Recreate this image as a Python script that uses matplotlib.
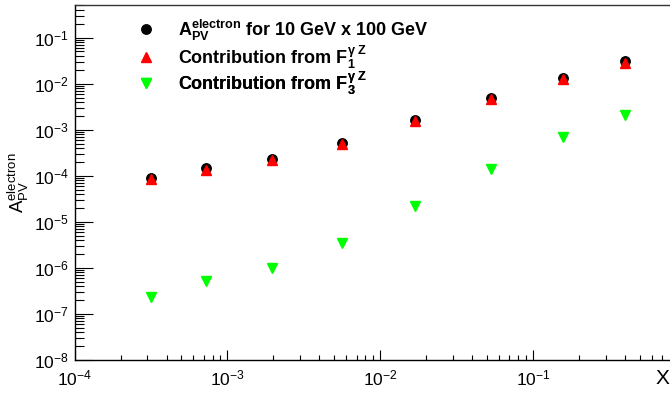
import math
import matplotlib
matplotlib.use("Agg")
import matplotlib.pyplot as plt
from matplotlib.ticker import LogLocator, FuncFormatter, NullFormatter
from matplotlib.lines import Line2D

plt.rcParams['font.family'] = ['Liberation Sans', 'DejaVu Sans']
plt.rcParams['mathtext.fontset'] = 'custom'
plt.rcParams['mathtext.rm'] = 'Liberation Sans'
plt.rcParams['mathtext.it'] = 'Liberation Sans:italic'
plt.rcParams['mathtext.bf'] = 'Liberation Sans:bold'
plt.rcParams['mathtext.sf'] = 'Liberation Sans'

# Data
x_vals = [3.15e-4, 7.2e-4, 1.97e-3, 5.6e-3, 1.7e-2, 5.3e-2, 0.158, 0.40]
apv_total = [9.1e-5, 1.45e-4, 2.3e-4, 5.2e-4, 1.65e-3, 4.9e-3, 1.35e-2, 3.05e-2]
apv_f1 = [8.5e-5, 1.36e-4, 2.16e-4, 4.9e-4, 1.55e-3, 4.6e-3, 1.27e-2, 2.85e-2]
apv_f3 = [2.37e-7, 5.2e-7, 9.8e-7, 3.4e-6, 2.2e-5, 1.4e-4, 7.0e-4, 2.07e-3]

labels = [r'$\mathbf{A^{electron}_{PV}}$ for 10 GeV x 100 GeV',
          r'Contribution from $\mathbf{F_1^{\gamma\ Z}}$',
          r'Contribution from $\mathbf{F_3^{\gamma\ Z}}$']

W, H = 670, 394
fig = plt.figure(figsize=(W / 100, H / 100), dpi=100)
left, right, top, bottom = 74.5, 686, 5, 360
ax = fig.add_axes([left / W, 1 - bottom / H, (right - left) / W, (bottom - top) / H])

ax.plot(x_vals, apv_total, 'o', color='black', markersize=6.8, linestyle='none')
ax.plot(x_vals, apv_f1, '^', color='#ff0000', markersize=6.8, linestyle='none')
ax.plot(x_vals, apv_f3, 'v', color='#00ff00', markersize=6.8, linestyle='none')

ax.set_xscale('log')
ax.set_yscale('log')
XMIN, XMAX, YMIN, YMAX = 1e-4, 1.0, 1e-8, 0.51
ax.set_xlim(XMIN, XMAX)
ax.set_ylim(YMIN, YMAX)

def make_fmt(lo, hi):
    def fmt(v, pos):
        if v < lo * 0.999 or v >= hi * 0.999:
            return ''
        e = int(round(math.log10(v)))
        return r'$10^{%d}$' % e
    return fmt

ax.xaxis.set_major_locator(LogLocator(base=10, numticks=20))
ax.yaxis.set_major_locator(LogLocator(base=10, numticks=20))
ax.xaxis.set_minor_locator(LogLocator(base=10, subs=range(2, 10), numticks=40))
ax.yaxis.set_minor_locator(LogLocator(base=10, subs=range(2, 10), numticks=40))
ax.xaxis.set_major_formatter(FuncFormatter(make_fmt(XMIN, XMAX)))
ax.yaxis.set_major_formatter(FuncFormatter(make_fmt(YMIN, YMAX)))
ax.xaxis.set_minor_formatter(NullFormatter())
ax.yaxis.set_minor_formatter(NullFormatter())

ax.tick_params(axis='x', which='major', direction='in', length=7.2, width=0.8, labelsize=12.5, pad=6)
ax.tick_params(axis='x', which='minor', direction='in', length=3.6, width=0.8)
ax.tick_params(axis='y', which='major', direction='in', length=13, width=0.8, labelsize=12.5, pad=4)
ax.tick_params(axis='y', which='minor', direction='in', length=6.5, width=0.8)
for s in ax.spines.values():
    s.set_linewidth(1.0)
ax.spines['top'].set_color('#333333')

ax.set_ylabel(r'$\mathregular{A^{electron}_{PV}}$', fontsize=13.5, labelpad=2)
fig.text(669 / W, 1 - 378 / H, 'X', fontsize=15, ha='right', va='center')

styles = [('o', 'black'), ('^', '#ff0000'), ('v', '#00ff00')]
rows_y = [30, 57, 83]
fs = 13
for (m, c), lab, yy in zip(styles, labels, rows_y):
    h = Line2D([], [], marker=m, color=c, linestyle='none', markersize=6.8)
    lg = ax.legend([h], [lab], loc='center left', bbox_to_anchor=(137 / W, 1 - yy / H),
                   bbox_transform=fig.transFigure, frameon=False,
                   prop={'weight': 'bold', 'size': fs}, handletextpad=1.27,
                   handlelength=1.0, borderaxespad=0, borderpad=0)
    ax.add_artist(lg)

fig.savefig('out.png', dpi=100)
